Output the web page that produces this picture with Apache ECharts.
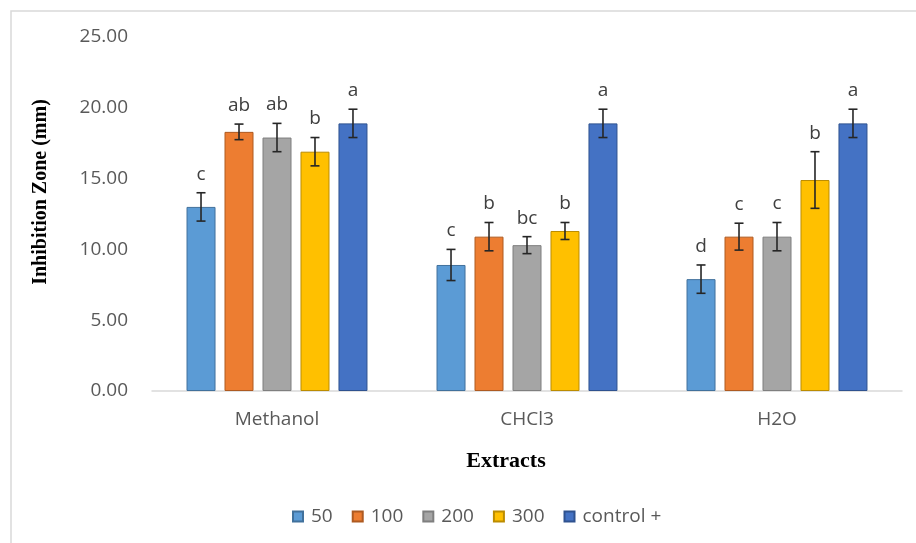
<!DOCTYPE html>
<html>
<head>
<meta charset="utf-8">
<script src="https://cdn.jsdelivr.net/npm/echarts@6/dist/echarts.min.js"></script>
<style>html,body{margin:0;padding:0;background:#fff;}#chart{width:916px;height:543px;}</style>
</head>
<body>
<div id="chart"></div>
<script>
const categories = ['Methanol', 'CHCl3', 'H2O'];
const seriesNames = ['50', '100', '200', '300', 'control +'];
const values50 = [13.0, 8.9, 7.9];
const values100 = [18.3, 10.9, 10.9];
const values200 = [17.9, 10.3, 10.9];
const values300 = [16.9, 11.3, 14.9];
const valuesControl = [18.9, 18.9, 18.9];
const err50 = [1.0, 1.1, 1.0];
const err100 = [0.55, 1.0, 0.95];
const err200 = [1.0, 0.6, 1.0];
const err300 = [1.0, 0.6, 2.0];
const errControl = [1.0, 1.0, 1.0];
const letters50 = ['c', 'c', 'd'];
const letters100 = ['ab', 'b', 'c'];
const letters200 = ['ab', 'bc', 'c'];
const letters300 = ['b', 'b', 'b'];
const lettersControl = ['a', 'a', 'a'];
const yTicks = ['0.00', '5.00', '10.00', '15.00', '20.00', '25.00'];

const allValues = [values50, values100, values200, values300, valuesControl];
const allErr = [err50, err100, err200, err300, errControl];
const allLetters = [letters50, letters100, letters200, letters300, lettersControl];
const colors = ['#5B9BD5', '#ED7D31', '#A5A5A5', '#FFC000', '#4472C4'];
const borders = ['#41719C', '#AE5A21', '#7F7F7F', '#BC8C00', '#2F528F'];

const BAR_W = 29;
const GAP = 0.31;
const FONT = '"Open Sans", sans-serif';

const series = [];
allValues.forEach((vals, i) => {
  series.push({
    name: seriesNames[i],
    type: 'bar',
    data: vals,
    barWidth: BAR_W,
    barGap: (GAP * 100) + '%',
    itemStyle: { color: colors[i], borderColor: borders[i], borderWidth: 1 }
  });
});
allValues.forEach((vals, i) => {
  const errs = allErr[i];
  const lets = allLetters[i];
  series.push({
    name: 'err' + i,
    type: 'custom',
    z: 5,
    data: vals.map((v, k) => [k, v, errs[k]]),
    renderItem: function (params, api) {
      const k = api.value(0), v = api.value(1), e = api.value(2);
      const off = (i - 2) * BAR_W * (1 + GAP);
      const top = api.coord([k, v + e]);
      const bot = api.coord([k, v - e]);
      const x = top[0] + off;
      const cap = 4.5;
      const st = { stroke: '#262626', lineWidth: 1.6 };
      return {
        type: 'group',
        children: [
          { type: 'line', shape: { x1: x, y1: top[1], x2: x, y2: bot[1] }, style: st },
          { type: 'line', shape: { x1: x - cap, y1: top[1], x2: x + cap, y2: top[1] }, style: st },
          { type: 'line', shape: { x1: x - cap, y1: bot[1], x2: x + cap, y2: bot[1] }, style: st },
          { type: 'text', x: x, y: top[1] - 9, style: { text: lets[params.dataIndex], fill: '#404040', font: '19px ' + FONT, textAlign: 'center', textVerticalAlign: 'bottom' } }
        ]
      };
    }
  });
});

const chart = echarts.init(document.getElementById('chart'));
chart.setOption({
  animation: false,
  backgroundColor: '#fff',
  grid: { left: 152, right: 14, top: 37, bottom: 152, containLabel: false },
  xAxis: {
    type: 'category',
    data: categories,
    axisLine: { lineStyle: { color: '#D9D9D9', width: 1.5 } },
    axisTick: { show: false },
    axisLabel: { color: '#595959', fontSize: 19, fontFamily: FONT, margin: 19 }
  },
  yAxis: {
    type: 'value',
    min: 0, max: 25, interval: 5,
    axisLine: { show: false },
    axisTick: { show: false },
    splitLine: { show: false },
    axisLabel: { color: '#595959', fontSize: 19, fontFamily: FONT, margin: 24,
      formatter: (v) => yTicks[Math.round(v / 5)] }
  },
  legend: {
    data: seriesNames,
    left: 287, top: 502,
    icon: 'rect', itemWidth: 10, itemHeight: 10, itemGap: 19,
    textStyle: { color: '#595959', fontSize: 19, fontFamily: FONT, padding: [0, 0, 0, 3] }
  },
  graphic: [
    { type: 'rect', shape: { x: 11, y: 11, width: 1000, height: 1000 }, style: { fill: 'none', stroke: '#D9D9D9', lineWidth: 1.5 }, silent: true },
    { type: 'text', x: 506, y: 461, style: { text: 'Extracts', font: 'bold 22px "Liberation Serif", serif', fill: '#000', textAlign: 'center', textVerticalAlign: 'middle' } },
    { type: 'text', x: 41, y: 192, rotation: Math.PI / 2, style: { text: 'Inhibition Zone (mm)', font: 'bold 20px "Liberation Serif", serif', fill: '#000', textAlign: 'center', textVerticalAlign: 'middle' } }
  ],
  series: series
});
</script>
</body>
</html>
